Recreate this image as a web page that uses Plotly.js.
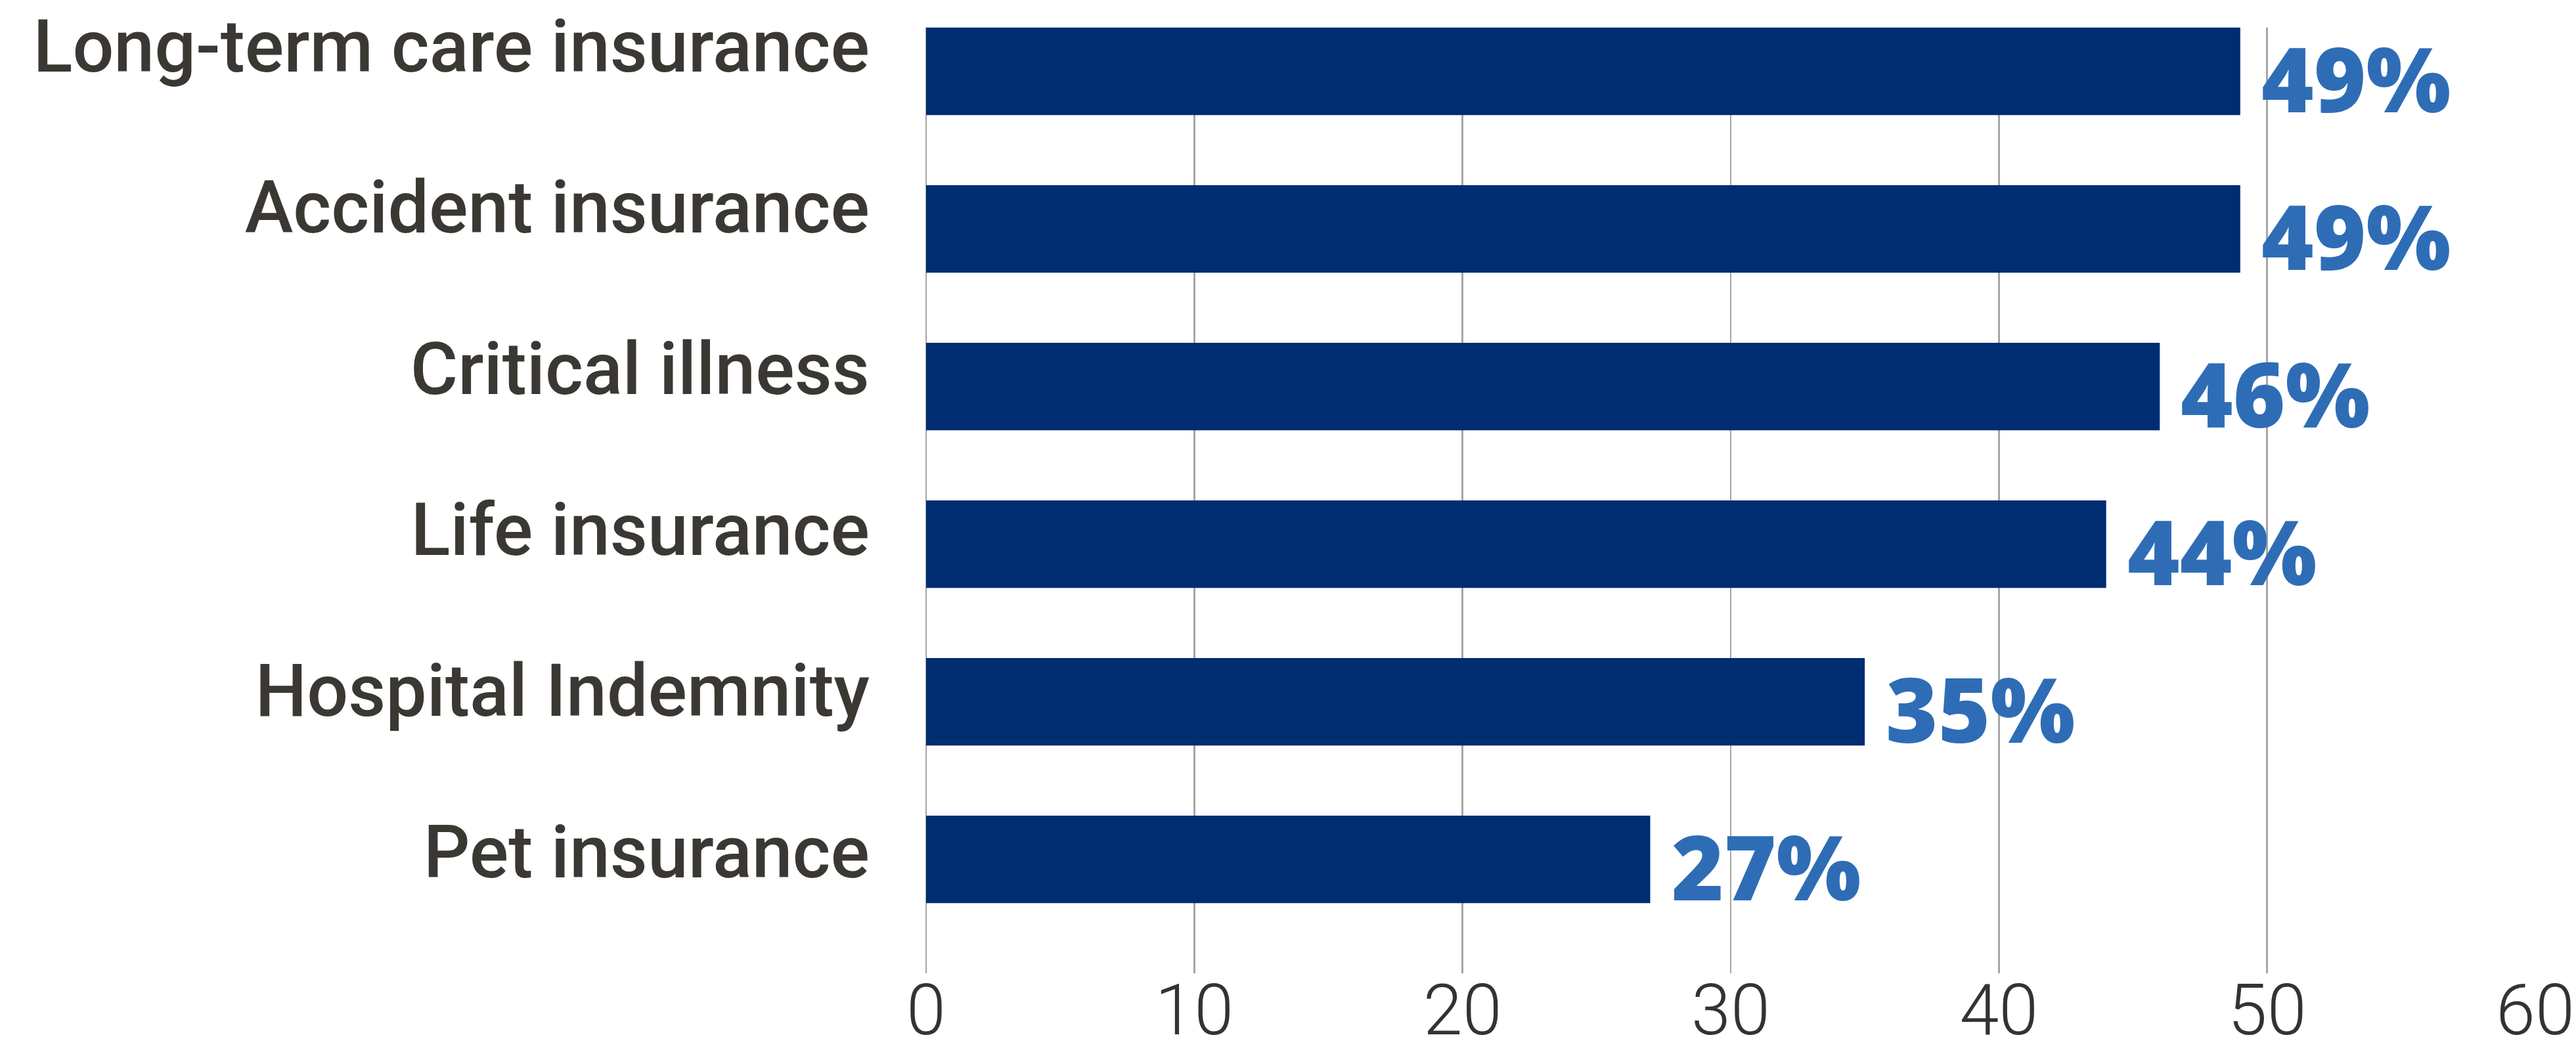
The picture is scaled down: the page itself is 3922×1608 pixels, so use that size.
<!DOCTYPE html>
<html><head><meta charset="utf-8">
<script src="https://cdn.plot.ly/plotly-3.0.1.min.js"></script>
<style>html,body{margin:0;padding:0;background:#fff}</style>
</head><body>
<div id="chart" style="width:3922px;height:1608px"></div>
<script>
const categories = ["Long-term care insurance", "Accident insurance", "Critical illness", "Life insurance", "Hospital Indemnity", "Pet insurance"];
const values = [49, 49, 46, 44, 35, 27];
const valueLabels = ["49%", "49%", "46%", "44%", "35%", "27%"];
const xTickValues = [0, 10, 20, 30, 40, 50, 60];
const xTickLabels = ["0", "10", "20", "30", "40", "50", "60"];

const barColor = "#002D72";
const labelBlue = "#2E6DB6";
const gridColor = "#A6A6A6";

const bars = {
  type: "bar",
  orientation: "h",
  y: categories,
  x: values,
  width: 0.555,
  marker: { color: barColor, line: { width: 0 } },
  hoverinfo: "none",
  showlegend: false
};

// invisible companion trace carrying the category labels on a slightly wider-spaced axis
const labelCarrier = {
  type: "scatter",
  mode: "markers",
  y: categories,
  x: values,
  yaxis: "y2",
  marker: { opacity: 0, size: 1 },
  hoverinfo: "none",
  showlegend: false
};

const annotations = values.map((v, i) => ({
  x: v, y: categories[i], xref: "x", yref: "y",
  text: valueLabels[i], showarrow: false,
  xanchor: "left", yanchor: "middle",
  xshift: 30, yshift: -10,
  font: { family: "Open Sans, sans-serif", weight: 800, size: 136, color: labelBlue }
}));

const layout = {
  width: 3922, height: 1608, autosize: false,
  margin: { l: 1410, r: 62, t: 42, b: 126, pad: 0 },
  paper_bgcolor: "#ffffff", plot_bgcolor: "#ffffff",
  showlegend: false,
  xaxis: {
    range: [0, 60], tickmode: "array", tickvals: xTickValues, ticktext: xTickLabels,
    showgrid: true, gridcolor: gridColor, gridwidth: 2.5,
    zeroline: true, zerolinecolor: gridColor, zerolinewidth: 2.5,
    showline: false, ticks: "", automargin: false, fixedrange: true,
    ticklabelstandoff: -16,
    tickfont: { family: "Roboto, sans-serif", weight: 300, size: 108, color: "#333333" }
  },
  yaxis: {
    type: "category", categoryorder: "array", categoryarray: categories,
    range: [5.7225, -0.2775],
    showgrid: false, zeroline: false, showline: false, ticks: "",
    showticklabels: false, automargin: false, fixedrange: true
  },
  yaxis2: {
    type: "category", categoryorder: "array", categoryarray: categories,
    overlaying: "y", side: "left", anchor: "x",
    range: [5.754, -0.114],
    showgrid: false, zeroline: false, showline: false, ticks: "",
    automargin: false, fixedrange: true,
    ticklabelstandoff: 85,
    tickfont: { family: "Roboto, sans-serif", weight: 500, size: 111, color: "#3B3834" }
  },
  annotations: annotations
};

Plotly.newPlot("chart", [bars, labelCarrier], layout, { displayModeBar: false, staticPlot: true });
</script>
</body></html>
